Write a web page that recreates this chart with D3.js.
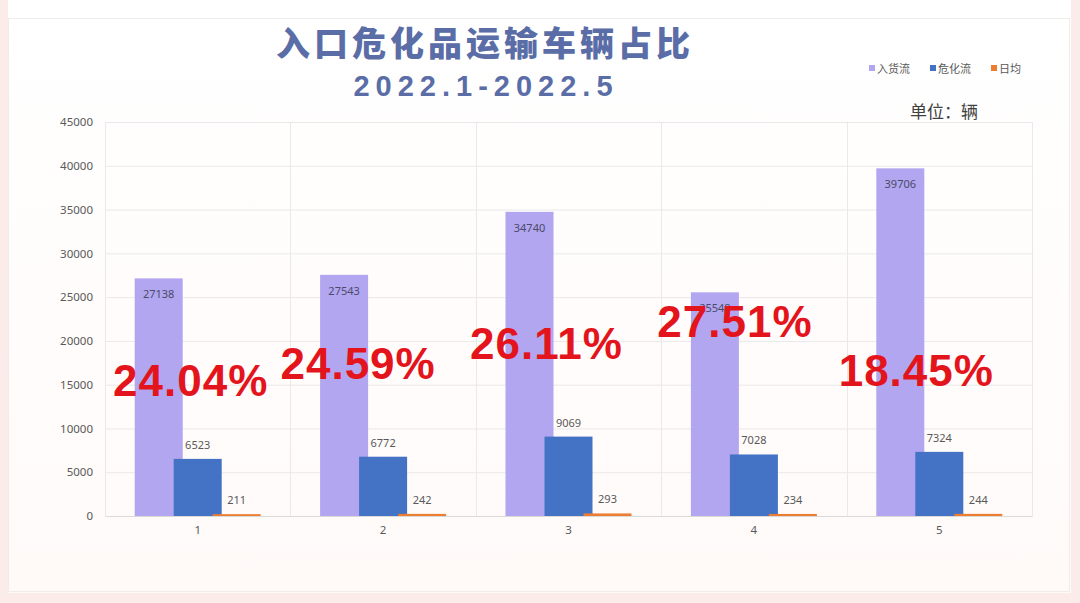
<!DOCTYPE html>
<html>
<head>
<meta charset="utf-8">
<script src="https://cdn.jsdelivr.net/npm/d3@7/dist/d3.min.js"></script>
<style>
  html, body { margin: 0; padding: 0; background: #fbecea; }
  svg { display: block; }
</style>
</head>
<body>
<div id="chart"></div>
<script>
// data
const months = ["1", "2", "3", "4", "5"];
const seriesNames = ["入货流", "危化流", "日均"];
const inbound = [27138, 27543, 34740, 25548, 39706];
const hazardous = [6523, 6772, 9069, 7028, 7324];
const dailyAvg = [211, 242, 293, 234, 244];
const pctLabels = ["24.04%", "24.59%", "26.11%", "27.51%", "18.45%"];
const yTicks = [0, 5000, 10000, 15000, 20000, 25000, 30000, 35000, 40000, 45000];

// where the red percentage notes sit (in axis units, and px shift from the band centre)
const pctLevel = [13700, 15700, 17900, 20400, 14800];
const pctShift = [-7, -25, -22, -19, -23];

const width = 1080, height = 603;
const margin = { top: 122, right: 48, bottom: 87, left: 105 };
const colors = ["#b2a6f0", "#4472c4", "#ed7d31"];

const svg = d3.select("#chart").append("svg")
    .attr("width", width)
    .attr("height", height);

// background panel
const defs = svg.append("defs");
const grad = defs.append("linearGradient").attr("id", "bg").attr("x1", 0).attr("y1", 0).attr("x2", 0).attr("y2", 1);
grad.append("stop").attr("offset", "0%").attr("stop-color", "#ffffff");
grad.append("stop").attr("offset", "100%").attr("stop-color", "#fffaf8");

svg.append("rect").attr("x", 0).attr("y", 0).attr("width", width).attr("height", height).attr("fill", "#fbecea");
svg.append("rect").attr("x", 8).attr("y", 0).attr("width", 1063).attr("height", 593).attr("fill", "url(#bg)");
svg.append("rect").attr("x", 8.5).attr("y", 18.5).attr("width", 1061).attr("height", 573)
    .attr("fill", "none").attr("stroke", "#f0ecec");

const x = d3.scaleBand()
    .domain(months)
    .range([margin.left, width - margin.right])
    .paddingInner(0)
    .paddingOuter(0);

const y = d3.scaleLinear()
    .domain([0, 45000])
    .range([height - margin.bottom, margin.top]);

const barW = 48, step = 39;   // excel style overlap between the three bars

// grid
svg.append("g")
    .selectAll("line")
    .data(yTicks.slice(1))
    .join("line")
    .attr("x1", margin.left).attr("x2", width - margin.right)
    .attr("y1", d => y(d) + 0.5).attr("y2", d => y(d) + 0.5)
    .attr("stroke", "#e9e9e9");

const bounds = months.map(m => x(m)).concat([x(months[months.length - 1]) + x.bandwidth()]);
svg.append("g")
    .selectAll("line")
    .data(bounds)
    .join("line")
    .attr("x1", d => Math.round(d) + 0.5).attr("x2", d => Math.round(d) + 0.5)
    .attr("y1", y(45000)).attr("y2", y(0))
    .attr("stroke", "#e9e9e9");

// y axis labels
const yAxis = svg.append("g")
    .attr("transform", `translate(${margin.left},0)`)
    .call(d3.axisLeft(y).tickValues(yTicks).tickSize(0).tickPadding(12).tickFormat(d3.format("d")));
yAxis.select(".domain").remove();
yAxis.selectAll("text")
    .attr("fill", "#595959")
    .style("font-family", "'Noto Sans', 'Liberation Sans', sans-serif")
    .style("font-size", "11.5px");

// x axis
const xAxis = svg.append("g")
    .attr("transform", `translate(0,${y(0)})`)
    .call(d3.axisBottom(x).tickSize(0).tickPadding(10));
xAxis.select(".domain").attr("stroke", "#d9d9d9");
xAxis.selectAll("text")
    .attr("fill", "#595959")
    .style("font-family", "'Noto Sans', 'Liberation Sans', sans-serif")
    .style("font-size", "11.5px");

// bars
const allSeries = [inbound, hazardous, dailyAvg];
const groupLeft = m => x(m) + x.bandwidth() / 2 - (step * 2 + barW) / 2;

allSeries.forEach((vals, si) => {
    const g = svg.append("g");
    g.selectAll("rect")
        .data(vals)
        .join("rect")
        .attr("x", (d, i) => groupLeft(months[i]) + si * step)
        .attr("y", d => y(d))
        .attr("width", barW)
        .attr("height", d => y(0) - y(d))
        .attr("fill", colors[si]);
});

// value labels
const labelFont = "'Noto Sans', 'Liberation Sans', sans-serif";
svg.append("g")
    .selectAll("text")
    .data(inbound)
    .join("text")
    .attr("x", (d, i) => groupLeft(months[i]) + barW / 2)
    .attr("y", d => y(d) + 20)
    .attr("text-anchor", "middle")
    .attr("fill", "#4a4a6a")
    .style("font-family", labelFont)
    .style("font-size", "11px")
    .text(d => d);

[hazardous, dailyAvg].forEach((vals, k) => {
    const si = k + 1;
    svg.append("g")
        .selectAll("text")
        .data(vals)
        .join("text")
        .attr("x", (d, i) => groupLeft(months[i]) + si * step + barW / 2)
        .attr("y", d => y(d) - 10)
        .attr("text-anchor", "middle")
        .attr("fill", "#595959")
        .style("font-family", labelFont)
        .style("font-size", "11px")
        .text(d => d);
});

// red percentage notes
svg.append("g")
    .selectAll("text")
    .data(pctLabels)
    .join("text")
    .attr("x", (d, i) => x(months[i]) + x.bandwidth() / 2 + pctShift[i])
    .attr("y", (d, i) => y(pctLevel[i]))
    .attr("text-anchor", "middle")
    .attr("fill", "#e3141c")
    .style("font-family", "'Liberation Sans', Arial, sans-serif")
    .style("font-weight", "bold")
    .style("font-size", "44px")
    .style("letter-spacing", "1px")
    .text(d => d);

// title
svg.append("text")
    .attr("x", 485).attr("y", 56)
    .attr("text-anchor", "middle")
    .attr("fill", "#5a6da7")
    .style("font-family", "'Noto Sans CJK SC', sans-serif")
    .style("font-weight", "900")
    .style("font-size", "34px")
    .style("letter-spacing", "4px")
    .text("入口危化品运输车辆占比");

svg.append("text")
    .attr("x", 486).attr("y", 96)
    .attr("text-anchor", "middle")
    .attr("fill", "#5a6da7")
    .style("font-family", "'Liberation Sans', Arial, sans-serif")
    .style("font-weight", "bold")
    .style("font-size", "29px")
    .style("letter-spacing", "6px")
    .text("2022.1-2022.5");

// legend
const legendX = [869, 930, 991];
const legend = svg.append("g");
seriesNames.forEach((name, i) => {
    legend.append("rect")
        .attr("x", legendX[i]).attr("y", 65)
        .attr("width", 6).attr("height", 6)
        .attr("fill", colors[i]);
    legend.append("text")
        .attr("x", legendX[i] + 8).attr("y", 72.5)
        .attr("fill", "#595959")
        .style("font-family", "'Noto Sans CJK SC', sans-serif")
        .style("font-size", "11px")
        .text(name);
});

svg.append("text")
    .attr("x", 910).attr("y", 118)
    .attr("fill", "#404040")
    .style("font-family", "'Noto Sans CJK SC', sans-serif")
    .style("font-size", "17px")
    .text("单位：辆");
</script>
</body>
</html>
